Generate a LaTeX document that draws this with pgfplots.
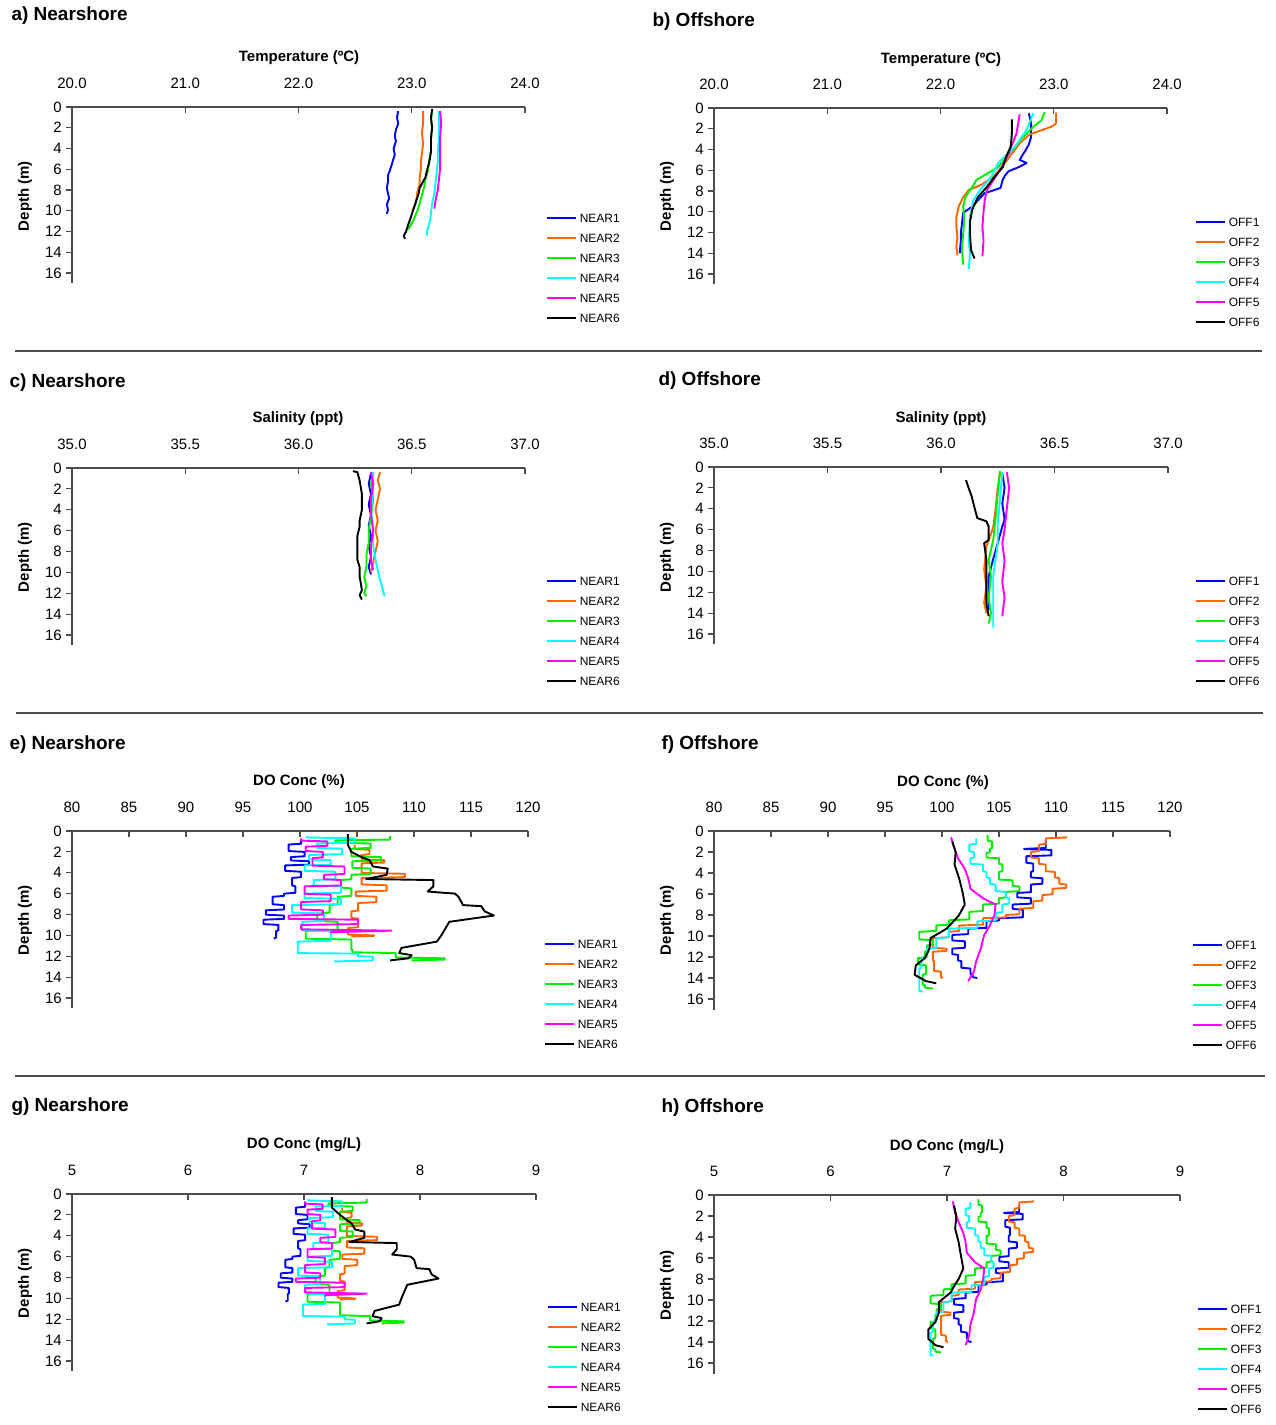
\documentclass[border=0pt]{standalone}
\usepackage{fontspec}
\setmainfont{Liberation Sans}
\usepackage{pgfplots}
\pgfplotsset{compat=1.18}

\definecolor{c1}{RGB}{0,0,255}
\definecolor{c2}{RGB}{255,102,0}
\definecolor{c3}{RGB}{0,238,0}
\definecolor{c4}{RGB}{0,255,255}
\definecolor{c5}{RGB}{255,0,255}
\definecolor{c6}{RGB}{0,0,0}

\newcommand\tfont{\fontsize{15}{18}\selectfont}
\newcommand\lfont{\fontsize{15}{18}\selectfont\bfseries}
\newcommand\hfont{\fontsize{19}{22}\selectfont\bfseries}

% one depth profile panel; depth typed positive, drawn downwards
\pgfplotsset{
  prof/.style={
    scale only axis, anchor=north west,
    axis x line=top, axis y line=left,
    axis line style={-, line width=1.3pt, color=black!70},
    tick style={line width=1.1pt, color=black!70},
    major tick length=6pt, tick align=inside,
    y tick style={xshift=-6pt},
    ymin=-17, ymax=0, ytick={-16,-14,...,0},
    yticklabels={16,14,12,10,8,6,4,2,0},
    y filter/.expression={-y},
    /pgf/number format/assume math mode=true,
    ticklabel style={font=\tfont},
    xticklabel style={anchor=base, inner sep=0pt, yshift=18.5pt},
    yticklabel style={anchor=east, inner sep=0pt, xshift=-10pt},
    no markers,
    every axis plot/.append style={line width=1.9pt, line join=round},
    legend style={draw=none, fill=none, anchor=north west,
      font=\fontsize{12}{12}\selectfont,
      row sep=11.6pt, column sep=3pt, inner sep=0pt,
      cells={anchor=west},
      nodes={inner sep=0pt, text height=8.4pt, text depth=0pt}},
    legend image code/.code={\draw[##1, line width=1.6pt] (0pt,0pt) -- (29pt,0pt);},
    legend cell align=left,
  },
  temp/.style={xmin=20, xmax=24, xtick={20,21,...,24},
    xticklabel style={/pgf/number format/.cd, fixed, fixed zerofill, precision=1}},
  sal/.style={xmin=35, xmax=37, xtick={35,35.5,...,37},
    xticklabel style={/pgf/number format/.cd, fixed, fixed zerofill, precision=1}},
  dop/.style={xmin=80, xmax=120, xtick={80,85,...,120}},
  dom/.style={xmin=5, xmax=9, xtick={5,6,...,9}},
}

\begin{document}
\begin{tikzpicture}
\path[use as bounding box] (0pt,0pt) rectangle (1275pt,-1425pt);

% panel titles, axis titles
\node[anchor=west, font=\hfont] at (8pt,-16pt) {a) Nearshore};
\node[anchor=west, font=\hfont] at (649pt,-22pt) {b) Offshore};
\node[anchor=west, font=\hfont] at (6pt,-383pt) {c) Nearshore};
\node[anchor=west, font=\hfont] at (655pt,-381pt) {d) Offshore};
\node[anchor=west, font=\hfont] at (6pt,-745pt) {e) Nearshore};
\node[anchor=west, font=\hfont] at (658pt,-745pt) {f) Offshore};
\node[anchor=west, font=\hfont] at (8pt,-1107pt) {g) Nearshore};
\node[anchor=west, font=\hfont] at (658pt,-1108pt) {h) Offshore};

\node[font=\lfont] at (299pt,-58pt) {Temperature (ºC)};
\node[font=\lfont] at (941pt,-60pt) {Temperature (ºC)};
\node[font=\lfont] at (298pt,-419pt) {Salinity (ppt)};
\node[font=\lfont] at (941pt,-419pt) {Salinity (ppt)};
\node[font=\lfont] at (299pt,-782pt) {DO Conc (\%)};
\node[font=\lfont] at (943pt,-783pt) {DO Conc (\%)};
\node[font=\lfont] at (304pt,-1145pt) {DO Conc (mg/L)};
\node[font=\lfont] at (947pt,-1147pt) {DO Conc (mg/L)};

\foreach \yy in {196,557,920,1283} {
  \node[rotate=90, font=\lfont] at (25pt,-\yy pt) {Depth (m)};
}
\foreach \yy in {196,557,920,1285} {
  \node[rotate=90, font=\lfont] at (667pt,-\yy pt) {Depth (m)};
}

\draw[line width=1.3pt, black!70] (15pt,-351pt) -- (1262pt,-351pt);
\draw[line width=1.3pt, black!70] (16pt,-713pt) -- (1263pt,-713pt);
\draw[line width=1.3pt, black!70] (15pt,-1076pt) -- (1265pt,-1076pt);

% a) temperature nearshore
\begin{axis}[prof, temp, at={(72pt,-107pt)}, width=453pt, height=176.4pt,
  legend style={at={(1.0464,0.3948)}}]
\addplot[c1] coordinates {(22.88,0.4)(22.87,1.0)(22.88,1.6)(22.86,2.2)(22.85,2.8)(22.86,3.3)(22.84,4.0)(22.85,4.6)(22.83,5.3)(22.81,6.0)(22.79,6.6)(22.79,7.2)(22.78,7.8)(22.79,8.3)(22.80,8.8)(22.78,9.4)(22.79,9.9)(22.78,10.3)};
\addplot[c2] coordinates {(23.10,0.4)(23.10,1.5)(23.09,2.5)(23.10,3.5)(23.09,4.5)(23.08,5.2)(23.08,6.0)(23.07,6.8)(23.07,7.5)(23.05,8.2)(23.04,9.0)(23.02,9.6)(23.01,10.0)};
\addplot[c3] coordinates {(23.18,0.4)(23.17,1.2)(23.18,2.0)(23.17,3.0)(23.17,4.0)(23.16,4.8)(23.15,5.5)(23.14,6.3)(23.12,7.0)(23.11,7.7)(23.09,8.5)(23.07,9.3)(23.05,10.0)(23.02,10.8)(22.99,11.4)(22.97,11.8)};
\addplot[c4] coordinates {(23.24,0.4)(23.24,1.5)(23.24,3.0)(23.23,4.5)(23.23,5.3)(23.22,6.3)(23.21,7.3)(23.20,8.3)(23.18,9.3)(23.17,10.2)(23.16,11.0)(23.14,11.8)(23.13,12.4)};
\addplot[c5] coordinates {(23.25,0.4)(23.26,1.5)(23.25,3.0)(23.25,4.5)(23.25,6.0)(23.24,7.0)(23.23,8.0)(23.21,9.0)(23.20,9.8)};
\addplot[c6] coordinates {(23.18,0.2)(23.17,1.0)(23.18,2.0)(23.17,3.0)(23.17,4.3)(23.16,5.0)(23.15,5.5)(23.13,6.3)(23.12,6.8)(23.09,7.4)(23.07,7.8)(23.06,8.4)(23.04,9.0)(23.03,9.4)(23.01,10.0)(22.99,10.7)(22.97,11.3)(22.95,12.0)(22.93,12.4)(22.94,12.7)};
\legend{NEAR1,NEAR2,NEAR3,NEAR4,NEAR5,NEAR6}
\end{axis}

% b) temperature offshore
\begin{axis}[prof, temp, at={(714pt,-108pt)}, width=453pt, height=176.4pt,
  legend style={at={(1.0618,0.3778)}}]
\addplot[c1] coordinates {(22.78,0.5)(22.80,1.5)(22.80,2.8)(22.78,3.5)(22.75,4.1)(22.72,4.6)(22.70,5.0)(22.76,5.3)(22.69,5.7)(22.60,6.1)(22.57,6.5)(22.55,6.9)(22.53,7.7)(22.45,8.0)(22.39,8.2)(22.33,8.9)(22.28,9.5)(22.20,10.1)(22.19,11.1)(22.18,12.0)(22.18,12.7)(22.17,14.0)};
\addplot[c2] coordinates {(23.02,0.45)(23.02,1.5)(22.98,1.8)(22.85,2.3)(22.78,2.6)(22.70,3.4)(22.61,4.7)(22.54,5.7)(22.47,6.6)(22.36,7.4)(22.25,7.9)(22.20,8.6)(22.16,9.5)(22.14,10.5)(22.14,11.5)(22.15,12.5)(22.14,13.3)(22.15,14.2)};
\addplot[c3] coordinates {(22.92,0.4)(22.89,1.2)(22.82,1.8)(22.73,2.8)(22.63,4.1)(22.51,5.7)(22.40,6.4)(22.32,6.9)(22.28,7.6)(22.22,8.6)(22.20,9.5)(22.21,10.8)(22.20,12.1)(22.19,13.5)(22.20,15.1)};
\addplot[c4] coordinates {(22.82,0.5)(22.76,2.1)(22.66,3.7)(22.51,5.3)(22.45,6.6)(22.35,7.9)(22.29,8.9)(22.26,10.5)(22.25,12.7)(22.26,14.0)(22.25,15.5)};
\addplot[c5] coordinates {(22.70,0.6)(22.67,2.5)(22.60,4.4)(22.54,5.7)(22.47,6.9)(22.41,7.9)(22.39,8.9)(22.38,10.0)(22.37,11.4)(22.38,12.8)(22.37,14.3)};
\addplot[c6] coordinates {(22.63,1.1)(22.63,2.5)(22.62,3.7)(22.58,4.7)(22.55,5.7)(22.48,6.6)(22.41,7.6)(22.33,8.6)(22.28,9.8)(22.26,11.0)(22.26,12.1)(22.27,13.7)(22.30,14.5)};
\legend{OFF1,OFF2,OFF3,OFF4,OFF5,OFF6}
\end{axis}

% c) salinity nearshore
\begin{axis}[prof, sal, at={(72pt,-468pt)}, width=453pt, height=177.4pt,
  legend style={at={(1.0464,0.3870)}}]
\addplot[c1] coordinates {(36.32,0.5)(36.31,1.5)(36.32,2.5)(36.31,3.5)(36.32,4.5)(36.31,5.5)(36.32,6.5)(36.31,7.5)(36.32,8.5)(36.31,9.5)(36.32,10.2)};
\addplot[c2] coordinates {(36.36,0.4)(36.35,1.2)(36.36,2.0)(36.35,3.0)(36.34,4.0)(36.35,5.0)(36.34,6.0)(36.35,7.0)(36.34,8.0)(36.33,9.0)(36.32,10.0)};
\addplot[c3] coordinates {(36.33,0.4)(36.32,1.5)(36.33,3.0)(36.32,4.5)(36.31,6.0)(36.31,7.2)(36.30,8.3)(36.30,9.4)(36.29,10.5)(36.30,11.3)(36.29,12.0)(36.30,12.3)};
\addplot[c4] coordinates {(36.33,0.4)(36.33,2.0)(36.32,4.0)(36.33,6.0)(36.33,7.5)(36.34,8.8)(36.35,9.8)(36.36,10.7)(36.37,11.5)(36.38,12.3)};
\addplot[c5] coordinates {(36.32,0.4)(36.33,1.5)(36.32,3.0)(36.32,4.5)(36.33,6.0)(36.32,7.5)(36.32,8.8)(36.33,9.8)};
\addplot[c6] coordinates {(36.24,0.3)(36.26,0.4)(36.27,1.2)(36.28,2.5)(36.28,4.0)(36.27,5.0)(36.27,5.6)(36.26,6.5)(36.26,7.5)(36.26,8.8)(36.27,9.5)(36.27,10.4)(36.28,11.7)(36.27,12.2)(36.28,12.6)};
\legend{NEAR1,NEAR2,NEAR3,NEAR4,NEAR5,NEAR6}
\end{axis}

% d) salinity offshore
\begin{axis}[prof, sal, at={(714pt,-467pt)}, width=454pt, height=177.4pt,
  legend style={at={(1.0595,0.3813)}}]
\addplot[c1] coordinates {(36.27,0.6)(36.28,2.0)(36.27,3.5)(36.28,5.0)(36.27,5.7)(36.25,7.3)(36.23,8.8)(36.21,10.5)(36.21,12.0)(36.21,13.7)};
\addplot[c2] coordinates {(36.26,0.5)(36.25,2.0)(36.24,4.1)(36.23,5.8)(36.20,7.6)(36.19,9.8)(36.20,11.5)(36.19,13.0)(36.20,14.0)};
\addplot[c3] coordinates {(36.26,0.4)(36.25,2.5)(36.24,5.0)(36.23,7.0)(36.21,8.9)(36.22,10.5)(36.21,12.5)(36.22,14.0)(36.21,15.0)};
\addplot[c4] coordinates {(36.27,0.5)(36.26,3.0)(36.25,5.5)(36.25,7.3)(36.23,10.5)(36.23,13.0)(36.23,15.4)};
\addplot[c5] coordinates {(36.29,0.5)(36.30,2.0)(36.29,4.0)(36.28,6.0)(36.27,7.3)(36.28,9.0)(36.27,11.0)(36.28,12.5)(36.27,14.3)};
\addplot[c6] coordinates {(36.11,1.25)(36.12,1.9)(36.135,2.8)(36.15,4.1)(36.16,4.9)(36.20,5.2)(36.21,5.7)(36.21,7.0)(36.19,7.3)(36.20,8.9)(36.20,10.8)(36.20,13.1)(36.21,14.3)};
\legend{OFF1,OFF2,OFF3,OFF4,OFF5,OFF6}
\end{axis}

% e) DO % nearshore
\begin{axis}[prof, dop, at={(72pt,-831pt)}, width=456pt, height=177.4pt,
  legend style={at={(1.0351,0.3870)}}]
\addplot[c1] coordinates {(100.1,0.86)(100.1,1.22)(99.0,1.3)(99.0,1.92)(100.4,2.0)(100.4,2.42)(99.2,2.5)(99.2,2.82)(100.8,2.9)(100.8,3.22)(98.7,3.3)(98.7,3.82)(100.1,3.9)(100.1,4.42)(99.3,4.5)(99.3,5.22)(99.6,5.3)(99.6,5.92)(98.6,6.0)(98.6,6.22)(97.6,6.3)(97.6,7.02)(98.6,7.1)(98.6,7.52)(97.0,7.6)(97.0,8.02)(98.6,8.1)(98.6,8.42)(96.8,8.5)(96.8,8.92)(98.1,9.0)(98.1,9.52)(97.9,9.6)(97.9,10.22)(97.7,10.3)};
\addplot[c2] coordinates {(104.8,1.3)(104.8,1.72)(106.1,1.8)(106.1,2.22)(105.4,2.3)(105.4,2.72)(107.4,2.8)(107.4,3.02)(105.4,3.1)(105.4,4.02)(109.2,4.1)(109.2,4.42)(105.4,4.5)(105.4,5.12)(107.6,5.2)(107.6,5.72)(104.9,5.8)(104.9,6.22)(106.7,6.3)(106.7,6.82)(105.1,6.9)(105.1,7.62)(104.5,7.7)(104.5,8.32)(105.1,8.4)(105.1,9.22)(104.2,9.3)(104.2,9.92)(106.5,10.0)(106.5,10.05)(104.5,10.1)};
\addplot[c3] coordinates {(107.9,0.5)(107.9,0.82)(103.1,0.9)(103.1,1.12)(106.2,1.2)(106.2,1.62)(104.5,1.7)(104.5,2.42)(107.1,2.5)(107.1,2.82)(104.6,2.9)(104.6,3.52)(106.2,3.6)(106.2,4.12)(104.5,4.2)(104.5,4.62)(103.6,4.7)(103.6,5.42)(104.5,5.5)(104.5,6.22)(103.3,6.3)(103.3,7.02)(102.6,7.1)(102.6,7.82)(101.5,7.9)(101.5,8.62)(103.3,8.7)(103.3,9.52)(100.5,9.6)(100.5,10.32)(104.5,10.4)(104.5,11.32)(104.6,11.4)(104.6,11.62)(108.4,11.7)(108.4,12.12)(112.7,12.2)(112.7,12.32)(109.8,12.4)};
\addplot[c4] coordinates {(100.6,0.5)(100.6,0.62)(104.8,0.7)(104.8,1.12)(101.5,1.2)(101.5,1.62)(103.7,1.7)(103.7,2.22)(100.8,2.3)(100.8,2.72)(102.7,2.8)(102.7,3.22)(100.4,3.3)(100.4,3.82)(103.1,3.9)(103.1,4.62)(101.2,4.7)(101.2,5.22)(103.6,5.3)(103.6,5.92)(100.4,6.0)(100.4,6.42)(103.6,6.5)(103.6,7.02)(99.3,7.1)(99.3,7.82)(102.1,7.9)(102.1,8.62)(100.2,8.7)(100.2,9.52)(102.7,9.6)(102.7,10.52)(99.8,10.6)(99.8,11.7)(105.1,11.75)(105.1,12.0)(106.4,12.05)(106.4,12.4)(103.0,12.5)};
\addplot[c5] coordinates {(100.1,0.7)(100.1,0.92)(102.4,1.0)(102.4,1.42)(100.5,1.5)(100.5,1.92)(102.0,2.0)(102.0,2.52)(101.1,2.6)(101.1,3.32)(103.9,3.4)(103.9,4.12)(102.1,4.2)(102.1,4.62)(103.6,4.7)(103.6,5.22)(100.4,5.3)(100.4,6.02)(102.7,6.1)(102.7,6.72)(100.1,6.8)(100.1,7.52)(102.0,7.6)(102.0,8.02)(99.0,8.1)(99.0,8.42)(105.1,8.5)(105.1,8.92)(100.1,9.0)(100.1,9.42)(105.1,9.5)(108.0,9.55)(102.7,9.7)(102.7,9.8)};
\addplot[c6] coordinates {(104.2,0.3)(104.2,1.3)(104.5,2.0)(105.4,2.5)(106.1,2.8)(106.4,3.4)(107.7,3.6)(107.6,4.2)(105.8,4.6)(111.7,4.7)(111.7,5.3)(111.2,5.8)(113.6,6.0)(113.9,6.3)(114.3,7.1)(115.9,7.2)(116.2,7.7)(117.0,8.1)(113.1,8.7)(112.4,10.0)(112.0,10.6)(108.9,11.2)(108.7,11.7)(109.8,11.9)(109.5,12.2)(107.9,12.4)};
\legend{NEAR1,NEAR2,NEAR3,NEAR4,NEAR5,NEAR6}
\end{axis}

% f) DO % offshore
\begin{axis}[prof, dop, at={(714pt,-831pt)}, width=456pt, height=178.5pt,
  legend style={at={(1.0482,0.3852)}}]
\addplot[c1] coordinates {(109.1,0.9)(109.1,1.62)(107.2,1.7)(107.2,1.72)(109.6,1.8)(109.6,2.32)(107.4,2.4)(107.4,3.02)(108.0,3.1)(108.0,3.82)(107.8,3.9)(107.8,4.42)(108.8,4.5)(108.8,5.02)(107.8,5.1)(107.8,5.82)(106.6,5.9)(106.6,6.32)(107.8,6.4)(107.8,6.92)(106.2,7.0)(106.2,7.42)(107.1,7.5)(107.1,8.22)(105.0,8.3)(105.0,8.52)(103.9,8.6)(103.9,9.22)(102.3,9.3)(102.3,9.82)(100.9,9.9)(100.9,10.42)(102.0,10.5)(102.0,11.12)(100.9,11.2)(100.9,11.72)(101.4,11.8)(101.4,12.32)(101.7,12.4)(101.7,13.02)(102.5,13.1)(102.5,13.62)(102.7,13.7)(102.7,13.92)(103.1,14.0)};
\addplot[c2] coordinates {(110.9,0.5)(110.9,0.62)(109.1,0.7)(109.1,1.22)(108.5,1.3)(108.5,1.92)(107.8,2.0)(107.8,2.52)(108.5,2.6)(108.5,3.12)(109.1,3.2)(109.1,3.82)(109.9,3.9)(109.9,4.42)(110.3,4.5)(110.3,5.02)(110.9,5.1)(110.9,5.42)(109.7,5.5)(109.7,6.02)(108.8,6.1)(108.8,6.62)(108.0,6.7)(108.0,7.32)(106.8,7.4)(106.8,7.92)(105.6,8.0)(105.6,8.22)(103.6,8.3)(103.6,8.92)(101.5,9.0)(101.5,9.52)(100.6,9.6)(100.6,10.12)(99.2,10.2)(99.2,11.12)(100.4,11.2)(100.4,11.42)(99.2,11.5)(99.2,12.32)(99.3,12.4)(99.3,13.32)(99.9,13.4)(99.9,13.92)(100.1,14.0)};
\addplot[c3] coordinates {(104.0,0.4)(104.0,0.92)(104.4,1.0)(104.4,1.62)(104.2,1.7)(104.2,2.02)(103.9,2.1)(103.9,2.52)(105.0,2.6)(105.0,3.12)(105.3,3.2)(105.3,3.82)(105.0,3.9)(105.0,4.62)(106.2,4.7)(106.2,5.22)(106.8,5.3)(106.8,5.72)(105.6,5.8)(105.6,6.32)(105.0,6.4)(105.0,6.92)(103.6,7.0)(103.6,7.62)(102.4,7.7)(102.4,8.42)(100.6,8.5)(100.6,8.92)(99.5,9.0)(99.5,9.52)(98.0,9.6)(98.0,10.32)(99.2,10.4)(99.2,10.82)(98.7,10.9)(98.7,11.42)(98.5,11.5)(98.5,12.02)(97.9,12.1)(97.9,12.72)(98.6,12.8)(98.6,13.62)(98.3,13.7)(98.3,14.62)(98.5,14.7)(98.5,14.92)(99.2,15.0)};
\addplot[c4] coordinates {(103.0,0.7)(103.0,1.22)(102.4,1.3)(102.4,1.92)(102.8,2.0)(102.8,2.52)(102.5,2.6)(102.5,3.12)(103.6,3.2)(103.6,3.82)(103.9,3.9)(103.9,4.42)(104.2,4.5)(104.2,5.02)(104.7,5.1)(104.7,5.72)(105.6,5.8)(105.6,6.32)(105.9,6.4)(105.9,6.92)(105.3,7.0)(105.3,7.72)(104.7,7.8)(104.7,8.52)(103.1,8.6)(103.1,9.22)(100.6,9.3)(100.6,10.12)(99.5,10.2)(99.5,11.12)(98.7,11.2)(98.7,12.02)(98.2,12.1)(98.2,13.02)(98.0,13.1)(98.0,15.22)(98.3,15.3)};
\addplot[c5] coordinates {(100.8,0.6)(101.1,1.7)(101.4,2.6)(102.0,3.6)(102.3,4.5)(102.5,5.5)(103.6,6.4)(104.7,7.0)(104.6,8.0)(104.2,9.0)(103.7,9.9)(103.4,11.2)(103.0,12.4)(102.8,13.4)(102.3,14.3)};
\addplot[c6] coordinates {(100.9,1.0)(101.2,2.0)(101.1,3.2)(101.5,4.5)(101.8,5.8)(102.0,7.0)(101.5,8.0)(101.1,8.5)(100.4,9.3)(99.0,10.2)(98.9,11.2)(98.5,12.1)(97.7,12.8)(97.6,13.7)(98.6,14.3)(99.5,14.5)};
\legend{OFF1,OFF2,OFF3,OFF4,OFF5,OFF6}
\end{axis}

% g) DO mg/L nearshore
\begin{axis}[prof, dom, at={(72pt,-1194pt)}, width=464pt, height=177.4pt,
  legend style={at={(1.0237,0.3870)}}]
\addplot[c1] coordinates {(7.01,0.86)(7.01,1.22)(6.93,1.3)(6.93,1.92)(7.03,2.0)(7.03,2.42)(6.95,2.5)(6.95,2.82)(7.05,2.9)(7.05,3.22)(6.91,3.3)(6.91,3.82)(7.01,3.9)(7.01,4.42)(6.95,4.5)(6.95,5.22)(6.97,5.3)(6.97,5.92)(6.90,6.0)(6.90,6.22)(6.84,6.3)(6.84,7.02)(6.90,7.1)(6.90,7.52)(6.80,7.6)(6.80,8.02)(6.90,8.1)(6.90,8.42)(6.78,8.5)(6.78,8.92)(6.87,9.0)(6.87,9.52)(6.86,9.6)(6.86,10.22)(6.84,10.3)};
\addplot[c2] coordinates {(7.33,1.3)(7.33,1.72)(7.41,1.8)(7.41,2.22)(7.37,2.3)(7.37,2.72)(7.50,2.8)(7.50,3.02)(7.37,3.1)(7.37,4.02)(7.63,4.1)(7.63,4.42)(7.37,4.5)(7.37,5.12)(7.52,5.2)(7.52,5.72)(7.33,5.8)(7.33,6.22)(7.46,6.3)(7.46,6.82)(7.35,6.9)(7.35,7.62)(7.31,7.7)(7.31,8.32)(7.35,8.4)(7.35,9.22)(7.29,9.3)(7.29,9.92)(7.44,10.0)(7.44,10.05)(7.31,10.1)};
\addplot[c3] coordinates {(7.54,0.5)(7.54,0.82)(7.21,0.9)(7.21,1.12)(7.42,1.2)(7.42,1.62)(7.31,1.7)(7.31,2.42)(7.48,2.5)(7.48,2.82)(7.31,2.9)(7.31,3.52)(7.42,3.6)(7.42,4.12)(7.31,4.2)(7.31,4.62)(7.24,4.7)(7.24,5.42)(7.31,5.5)(7.31,6.22)(7.22,6.3)(7.22,7.02)(7.18,7.1)(7.18,7.82)(7.10,7.9)(7.10,8.62)(7.22,8.7)(7.22,9.52)(7.03,9.6)(7.03,10.32)(7.31,10.4)(7.31,11.32)(7.31,11.4)(7.31,11.62)(7.57,11.7)(7.57,12.12)(7.86,12.2)(7.86,12.32)(7.67,12.4)};
\addplot[c4] coordinates {(7.04,0.5)(7.04,0.62)(7.33,0.7)(7.33,1.12)(7.10,1.2)(7.10,1.62)(7.25,1.7)(7.25,2.22)(7.05,2.3)(7.05,2.72)(7.18,2.8)(7.18,3.22)(7.03,3.3)(7.03,3.82)(7.21,3.9)(7.21,4.62)(7.08,4.7)(7.08,5.22)(7.24,5.3)(7.24,5.92)(7.03,6.0)(7.03,6.42)(7.24,6.5)(7.24,7.02)(6.95,7.1)(6.95,7.82)(7.14,7.9)(7.14,8.62)(7.01,8.7)(7.01,9.52)(7.18,9.6)(7.18,10.52)(6.99,10.6)(6.99,11.7)(7.35,11.75)(7.35,12.0)(7.44,12.05)(7.44,12.4)(7.20,12.5)};
\addplot[c5] coordinates {(7.01,0.7)(7.01,0.92)(7.16,1.0)(7.16,1.42)(7.03,1.5)(7.03,1.92)(7.14,2.0)(7.14,2.52)(7.07,2.6)(7.07,3.32)(7.27,3.4)(7.27,4.12)(7.14,4.2)(7.14,4.62)(7.24,4.7)(7.24,5.22)(7.03,5.3)(7.03,6.02)(7.18,6.1)(7.18,6.72)(7.01,6.8)(7.01,7.52)(7.14,7.6)(7.14,8.02)(6.93,8.1)(6.93,8.42)(7.35,8.5)(7.35,8.92)(7.01,9.0)(7.01,9.42)(7.35,9.5)(7.54,9.55)(7.18,9.7)(7.18,9.8)};
\addplot[c6] coordinates {(7.24,0.3)(7.24,1.3)(7.31,2.0)(7.37,2.5)(7.41,2.8)(7.44,3.4)(7.52,3.6)(7.52,4.2)(7.39,4.6)(7.80,4.7)(7.80,5.3)(7.76,5.8)(7.92,6.0)(7.95,6.3)(7.97,7.1)(8.08,7.2)(8.10,7.7)(8.16,8.1)(7.89,8.7)(7.84,10.0)(7.82,10.6)(7.61,11.2)(7.59,11.7)(7.67,11.9)(7.65,12.2)(7.54,12.4)};
\legend{NEAR1,NEAR2,NEAR3,NEAR4,NEAR5,NEAR6}
\end{axis}

% h) DO mg/L offshore
\begin{axis}[prof, dom, at={(714pt,-1195pt)}, width=466pt, height=178.5pt,
  legend style={at={(1.0365,0.3852)}}]
\addplot[c1] coordinates {(7.62,0.9)(7.62,1.62)(7.49,1.7)(7.49,1.72)(7.65,1.8)(7.65,2.32)(7.50,2.4)(7.50,3.02)(7.54,3.1)(7.54,3.82)(7.53,3.9)(7.53,4.42)(7.60,4.5)(7.60,5.02)(7.53,5.1)(7.53,5.82)(7.45,5.9)(7.45,6.32)(7.53,6.4)(7.53,6.92)(7.42,7.0)(7.42,7.42)(7.48,7.5)(7.48,8.22)(7.34,8.3)(7.34,8.52)(7.27,8.6)(7.27,9.22)(7.16,9.3)(7.16,9.82)(7.06,9.9)(7.06,10.42)(7.14,10.5)(7.14,11.12)(7.06,11.2)(7.06,11.72)(7.10,11.8)(7.10,12.32)(7.12,12.4)(7.12,13.02)(7.17,13.1)(7.17,13.62)(7.18,13.7)(7.18,13.92)(7.21,14.0)};
\addplot[c2] coordinates {(7.74,0.5)(7.74,0.62)(7.62,0.7)(7.62,1.22)(7.58,1.3)(7.58,1.92)(7.53,2.0)(7.53,2.52)(7.58,2.6)(7.58,3.12)(7.62,3.2)(7.62,3.82)(7.67,3.9)(7.67,4.42)(7.70,4.5)(7.70,5.02)(7.74,5.1)(7.74,5.42)(7.66,5.5)(7.66,6.02)(7.60,6.1)(7.60,6.62)(7.54,6.7)(7.54,7.32)(7.46,7.4)(7.46,7.92)(7.38,8.0)(7.38,8.22)(7.24,8.3)(7.24,8.92)(7.10,9.0)(7.10,9.52)(7.04,9.6)(7.04,10.12)(6.95,10.2)(6.95,11.12)(7.03,11.2)(7.03,11.42)(6.95,11.5)(6.95,12.32)(6.95,12.4)(6.95,13.32)(6.99,13.4)(6.99,13.92)(7.01,14.0)};
\addplot[c3] coordinates {(7.27,0.4)(7.27,0.92)(7.30,1.0)(7.30,1.62)(7.29,1.7)(7.29,2.02)(7.27,2.1)(7.27,2.52)(7.34,2.6)(7.34,3.12)(7.36,3.2)(7.36,3.82)(7.34,3.9)(7.34,4.62)(7.42,4.7)(7.42,5.22)(7.46,5.3)(7.46,5.72)(7.38,5.8)(7.38,6.32)(7.34,6.4)(7.34,6.92)(7.24,7.0)(7.24,7.62)(7.16,7.7)(7.16,8.42)(7.04,8.5)(7.04,8.92)(6.97,9.0)(6.97,9.52)(6.86,9.6)(6.86,10.32)(6.95,10.4)(6.95,10.82)(6.91,10.9)(6.91,11.42)(6.90,11.5)(6.90,12.02)(6.86,12.1)(6.86,12.72)(6.90,12.8)(6.90,13.62)(6.88,13.7)(6.88,14.62)(6.90,14.7)(6.90,14.92)(6.95,15.0)};
\addplot[c4] coordinates {(7.20,0.7)(7.20,1.22)(7.16,1.3)(7.16,1.92)(7.19,2.0)(7.19,2.52)(7.17,2.6)(7.17,3.12)(7.24,3.2)(7.24,3.82)(7.27,3.9)(7.27,4.42)(7.29,4.5)(7.29,5.02)(7.32,5.1)(7.32,5.72)(7.38,5.8)(7.38,6.32)(7.40,6.4)(7.40,6.92)(7.36,7.0)(7.36,7.72)(7.32,7.8)(7.32,8.52)(7.21,8.6)(7.21,9.22)(7.04,9.3)(7.04,10.12)(6.97,10.2)(6.97,11.12)(6.91,11.2)(6.91,12.02)(6.88,12.1)(6.88,13.02)(6.86,13.1)(6.86,15.22)(6.88,15.3)};
\addplot[c5] coordinates {(7.05,0.6)(7.07,1.7)(7.10,2.6)(7.14,3.6)(7.16,4.5)(7.17,5.5)(7.24,6.4)(7.32,7.0)(7.31,8.0)(7.29,9.0)(7.25,9.9)(7.23,11.2)(7.20,12.4)(7.19,13.4)(7.16,14.3)};
\addplot[c6] coordinates {(7.06,1.0)(7.08,2.0)(7.07,3.2)(7.10,4.5)(7.12,5.8)(7.14,7.0)(7.10,8.0)(7.07,8.5)(7.03,9.3)(6.93,10.2)(6.93,11.2)(6.90,12.1)(6.84,12.8)(6.84,13.7)(6.90,14.3)(6.97,14.5)};
\legend{OFF1,OFF2,OFF3,OFF4,OFF5,OFF6}
\end{axis}
\end{tikzpicture}
\end{document}
